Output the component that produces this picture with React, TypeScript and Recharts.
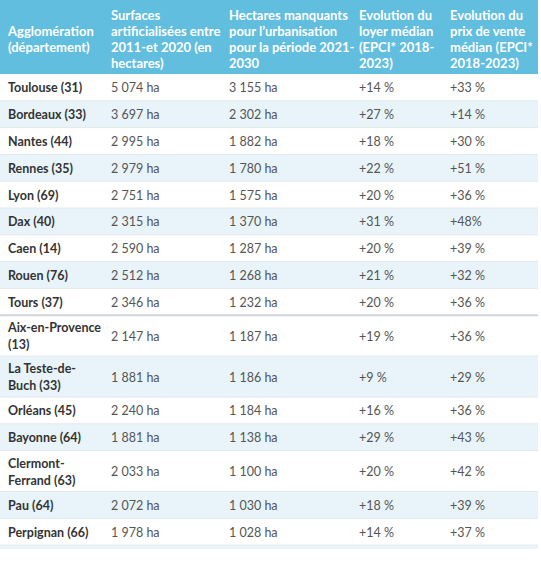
import { ScatterChart, Scatter, XAxis, YAxis, ReferenceArea, ReferenceLine } from "recharts";

const HEADERS = [
  "Agglomération\n(département)",
  "Surfaces\nartificialisées entre\n2011-et 2020 (en\nhectares)",
  "Hectares manquants\npour l’urbanisation\npour la période 2021-\n2030",
  "Evolution du\nloyer médian\n(EPCI* 2018-\n2023)",
  "Evolution du\nprix de vente\nmédian (EPCI*\n2018-2023)",
];

const CITIES = [
  "Toulouse (31)", "Bordeaux (33)", "Nantes (44)", "Rennes (35)", "Lyon (69)", "Dax (40)",
  "Caen (14)", "Rouen (76)", "Tours (37)", "Aix-en-Provence\n(13)", "La Teste-de-\nBuch (33)",
  "Orléans (45)", "Bayonne (64)", "Clermont-\nFerrand (63)", "Pau (64)", "Perpignan (66)",
];
const SURFACES = [
  "5 074 ha", "3 697 ha", "2 995 ha", "2 979 ha", "2 751 ha", "2 315 ha", "2 590 ha", "2 512 ha",
  "2 346 ha", "2 147 ha", "1 881 ha", "2 240 ha", "1 881 ha", "2 033 ha", "2 072 ha", "1 978 ha",
];
const MISSING = [
  "3 155 ha", "2 302 ha", "1 882 ha", "1 780 ha", "1 575 ha", "1 370 ha", "1 287 ha", "1 268 ha",
  "1 232 ha", "1 187 ha", "1 186 ha", "1 184 ha", "1 138 ha", "1 100 ha", "1 030 ha", "1 028 ha",
];
const RENT = [
  "+14 %", "+27 %", "+18 %", "+22 %", "+20 %", "+31 %", "+20 %", "+21 %",
  "+20 %", "+19 %", "+9 %", "+16 %", "+29 %", "+20 %", "+18 %", "+14 %",
];
const PRICE = [
  "+33 %", "+14 %", "+30 %", "+51 %", "+36 %", "+48%", "+39 %", "+32 %",
  "+36 %", "+36 %", "+29 %", "+36 %", "+43 %", "+42 %", "+39 %", "+37 %",
];
// rows drawn with the light blue tint
const STRIPED = [1, 3, 5, 7, 10, 12, 14];

const W = 541;
const H = 561;
const TABLE_W = 538;
const COL_X = [8, 111, 229, 359, 450];
const HEADER_H = 74;
const ROW_H = 26.8;
const EXTRA_LINE = 14.1;

const HEADER_BG = "#62bedf";
const STRIPE_BG = "#e8f4fa";
const BORDER = "#e2e8eb";
const FONT = "Lato, 'Noto Sans', sans-serif";

const columns = [CITIES, SURFACES, MISSING, RENT, PRICE];

let cursor = HEADER_H;
const rows = CITIES.map((city, i) => {
  const lines = city.split("\n").length;
  const h = ROW_H + EXTRA_LINE * (lines - 1);
  const r = { top: cursor, bottom: cursor + h, mid: cursor + h / 2, striped: STRIPED.includes(i) };
  cursor += h;
  return r;
});

const cells = [
  ...HEADERS.map((text, c) => ({ x: COL_X[c], y: HEADER_H / 2 + 2, text, kind: "header" })),
  ...rows.flatMap((r, i) =>
    columns.map((col, c) => ({ x: COL_X[c], y: r.mid, text: col[i], kind: c === 0 ? "city" : "value" }))
  ),
];

function CellText(props: any) {
  const { cx, cy, payload } = props;
  const lines: string[] = payload.text.split("\n");
  const header = payload.kind === "header";
  const lh = header ? 16 : 17;
  const y0 = cy - ((lines.length - 1) * lh) / 2;
  return (
    <text
      x={cx}
      fontFamily={FONT}
      fontSize={header ? 13 : 12.5}
      fontWeight={payload.kind === "value" ? 400 : 700}
      fill={header ? "#ffffff" : payload.kind === "city" ? "#333333" : "#555555"}
      dominantBaseline="central"
    >
      {lines.map((l, k) => (
        <tspan key={k} x={cx} y={y0 + k * lh}>
          {l}
        </tspan>
      ))}
    </text>
  );
}

export default function App() {
  const last = rows[rows.length - 1];
  return (
    <div style={{ position: "absolute", left: 0, top: 0, background: "#fff" }}>
      <ScatterChart width={W} height={H} margin={{ top: 0, right: 0, bottom: 0, left: 0 }}>
        <XAxis type="number" dataKey="x" domain={[0, W]} hide />
        <YAxis type="number" dataKey="y" domain={[0, H]} reversed hide />
        <ReferenceArea x1={0} x2={TABLE_W} y1={0} y2={HEADER_H} fill={HEADER_BG} fillOpacity={1} stroke="none" />
        {rows.map((r, i) =>
          r.striped ? (
            <ReferenceArea key={`bg${i}`} x1={0} x2={TABLE_W} y1={r.top} y2={r.bottom} fill={STRIPE_BG} fillOpacity={1} stroke="none" />
          ) : null
        )}
        <ReferenceArea x1={0} x2={TABLE_W} y1={last.bottom + 1} y2={last.bottom + 4} fill={STRIPE_BG} fillOpacity={1} stroke="none" />
        {rows.map((r, i) => (
          <ReferenceLine
            key={`ln${i}`}
            segment={[{ x: 0, y: r.bottom }, { x: TABLE_W, y: r.bottom }]}
            stroke={i === 8 ? "#cfd6da" : BORDER}
            strokeWidth={i === 8 ? 2 : 1}
          />
        ))}
        <Scatter data={cells} shape={CellText} isAnimationActive={false} />
      </ScatterChart>
    </div>
  );
}
